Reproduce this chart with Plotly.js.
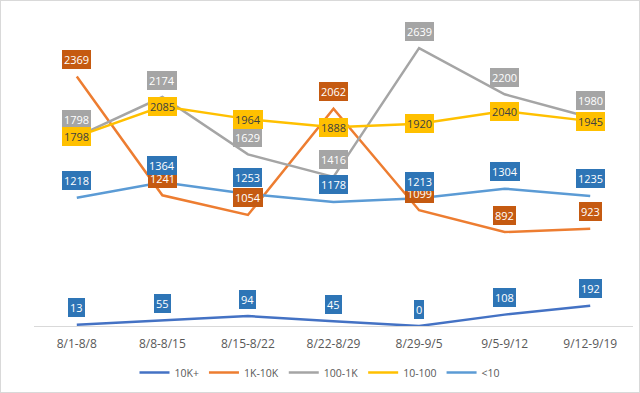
<!DOCTYPE html>
<html>
<head>
<meta charset="utf-8">
<script src="https://cdn.plot.ly/plotly-3.0.1.min.js"></script>
<style>
html,body{margin:0;padding:0;background:#fff;}
#wrap{width:640px;height:393px;box-sizing:border-box;border:1px solid #D9D9D9;}
#chart{width:638px;height:391px;}
</style>
</head>
<body>
<div id="wrap"><div id="chart"></div></div>
<script>
const categories = ["8/1-8/8","8/8-8/15","8/15-8/22","8/22-8/29","8/29-9/5","9/5-9/12","9/12-9/19"];
const s10Kplus = [13, 55, 94, 45, 0, 108, 192];
const s1Kto10K = [2369, 1241, 1054, 2062, 1099, 892, 923];
const s100to1K = [1798, 2174, 1629, 1416, 2639, 2200, 1980];
const s10to100 = [1798, 2085, 1964, 1888, 1920, 2040, 1945];
const sUnder10 = [1218, 1364, 1253, 1178, 1213, 1304, 1235];

const series = [
  {name:"10K+",   y:s10Kplus, line:"#4472C4", box:"#2E75B6", txt:"#FFFFFF", shift:17},
  {name:"1K-10K", y:s1Kto10K, line:"#ED7D31", box:"#C55A11", txt:"#FFFFFF", shift:17},
  {name:"100-1K", y:s100to1K, line:"#A5A5A5", box:"#A5A5A5", txt:"#FFFFFF", shift:17},
  {name:"10-100", y:s10to100, line:"#FFC000", box:"#FFC000", txt:"#404040", shift:0},
  {name:"<10",    y:sUnder10, line:"#5B9BD5", box:"#2E75B6", txt:"#FFFFFF", shift:17}
];

const traces = series.map(s => ({
  type:"scatter", mode:"lines", name:s.name, x:categories, y:s.y,
  line:{color:s.line, width:2.5}, hoverinfo:"skip"
}));

const annotations = [];
series.forEach(s => {
  s.y.forEach((v,i) => {
    annotations.push({
      x:categories[i], y:v, xref:"x", yref:"y", text:String(v), showarrow:false,
      yshift:s.shift, bgcolor:s.box, borderpad:2, borderwidth:0,
      font:{family:"Open Sans, sans-serif", size:11, color:s.txt}
    });
  });
});

const layout = {
  width:638, height:391,
  margin:{l:33, r:6, t:9, b:66},
  paper_bgcolor:"#FFFFFF", plot_bgcolor:"#FFFFFF",
  showlegend:true,
  legend:{orientation:"h", x:0.5, xanchor:"center", xref:"container", y:0.05, yanchor:"middle", yref:"container",
          font:{family:"Open Sans, sans-serif", size:10.5, color:"#595959"}, itemwidth:30, tracegroupgap:0},
  xaxis:{type:"category", range:[-0.5, 6.5], showline:true, linecolor:"#D9D9D9", linewidth:1, showgrid:false, zeroline:false,
         automargin:false, ticks:"", ticklabelstandoff:7, tickfont:{family:"Open Sans, sans-serif", size:12, color:"#595959"}},
  yaxis:{range:[0,3000], visible:false, showgrid:false, zeroline:false},
  annotations:annotations
};

Plotly.newPlot("chart", traces, layout, {displayModeBar:false, staticPlot:true});
</script>
</body>
</html>
